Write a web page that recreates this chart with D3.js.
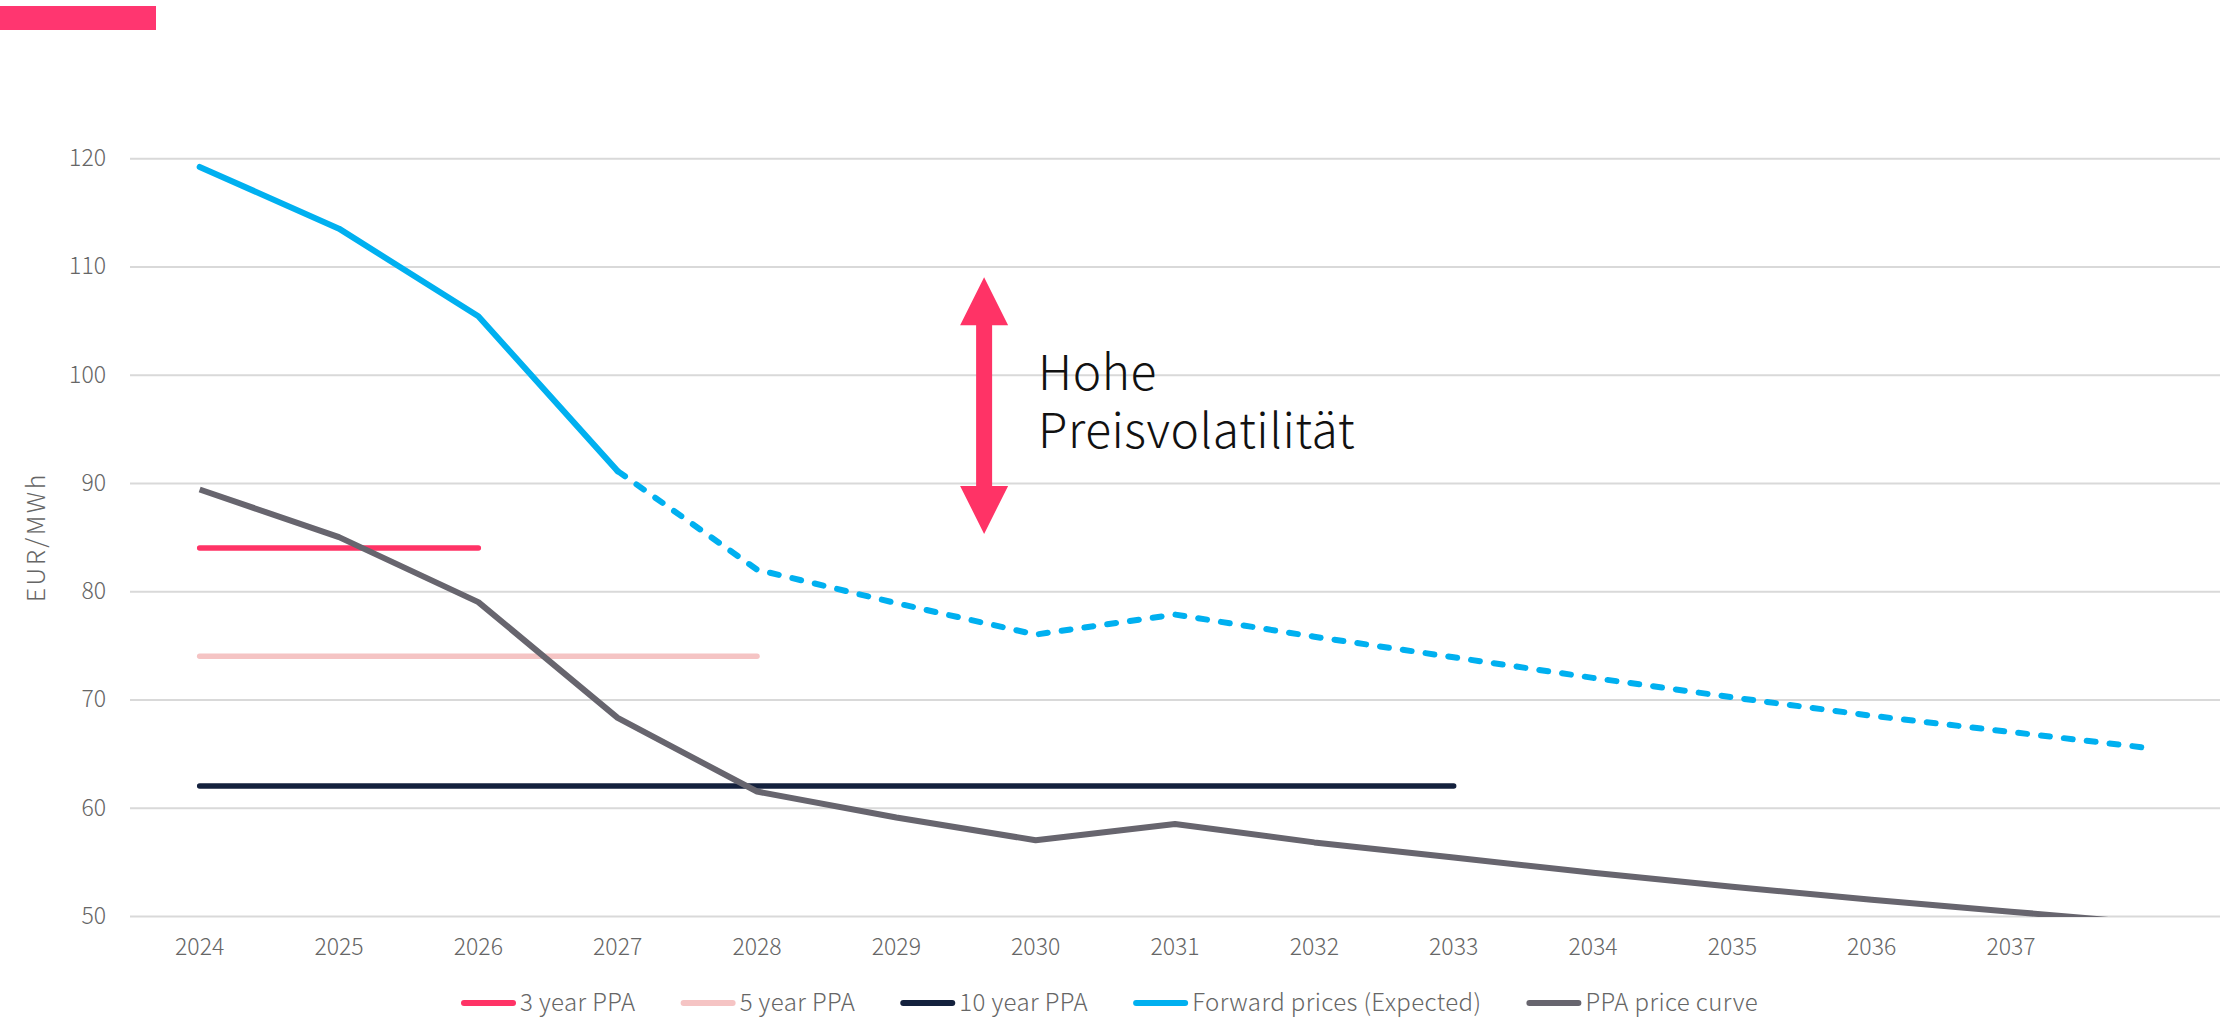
<!DOCTYPE html>
<meta charset="utf-8">
<style type="text/css">
  body {
    margin: 0;
    background: #fff;
    font-family: "Noto Sans CJK JP", "Noto Sans", sans-serif;
  }
  .axis path.domain { display: none; }
  .y.axis line { stroke: #d9d9d9; stroke-width: 2; }
  .axis text { fill: #666; font-size: 23px; font-weight: 300; font-family: "Noto Sans CJK JP", "Noto Sans", sans-serif; }
  .legend text { fill: #666; font-size: 24px; font-weight: 300; letter-spacing: 0.4px; }
  .note { fill: #111; font-size: 48px; font-weight: 300; letter-spacing: 0.5px; }
</style>
<body></body>
<script src="https://cdn.jsdelivr.net/npm/d3@7"></script>
<script>

// categories (last one has no label in the original)
var years = ["2024","2025","2026","2027","2028","2029","2030","2031","2032","2033","2034","2035","2036","2037","2038"];
var tickLabels = ["2024","2025","2026","2027","2028","2029","2030","2031","2032","2033","2034","2035","2036","2037",""];
var yTicks = [50, 60, 70, 80, 90, 100, 110, 120];

// series, EUR/MWh
var forward = [119.2, 113.5, 105.4, 91.1, 82.0, 78.9, 76.0, 77.85, 75.8, 73.9, 72.0, 70.2, 68.5, 67.0, 65.5];
var ppaCurve = [89.4, 85.0, 79.0, 68.3, 61.5, 59.1, 57.0, 58.5, 56.8, 55.4, 54.0, 52.7, 51.5, 50.4, 49.3];
var ppa3 = [84, 84, 84];
var ppa5 = [74, 74, 74, 74, 74];
var ppa10 = [62, 62, 62, 62, 62, 62, 62, 62, 62, 62];
var forwardSolidUntil = 3; // 2027, dashed afterwards

var legendItems = ["3 year PPA", "5 year PPA", "10 year PPA", "Forward prices (Expected)", "PPA price curve"];
var colors = ["#ff3366", "#f5c4c4", "#14213d", "#00b0f0", "#67656e"];

var W = 2232, H = 1017;
var m = {left: 130, right: 2220, top: 158.3, bottom: 916};

var svg = d3.select("body").append("svg")
    .attr("width", W)
    .attr("height", H);

// pink header bar
svg.append("rect")
    .attr("x", 0).attr("y", 6)
    .attr("width", 156).attr("height", 24)
    .attr("fill", "#ff3670");

var x = d3.scaleBand()
    .domain(years)
    .range([m.left, m.right])
    .padding(0);

var y = d3.scaleLinear()
    .domain([50, 120])
    .range([m.bottom, m.top]);

function cx(d, i) { return x(years[i]) + x.bandwidth() / 2; }

var yaxis = d3.axisLeft(y)
    .tickValues(yTicks)
    .tickSizeInner(-(m.right - m.left))
    .tickSizeOuter(0)
    .tickPadding(24);

svg.append("g")
    .attr("class", "y axis")
    .attr("transform", "translate(" + m.left + ",0)")
    .call(yaxis);

var xaxis = d3.axisBottom(x)
    .tickSize(0)
    .tickPadding(23)
    .tickFormat(function(d, i) { return tickLabels[i]; });

svg.append("g")
    .attr("class", "x axis")
    .attr("transform", "translate(0," + m.bottom + ")")
    .call(xaxis);

// y title
svg.append("text")
    .attr("transform", "translate(36," + (m.top + m.bottom) / 2 + ") rotate(-90)")
    .attr("text-anchor", "middle")
    .attr("dy", "0.35em")
    .attr("fill", "#666")
    .style("font-size", "25px")
    .style("font-weight", 300)
    .style("letter-spacing", "2.5px")
    .text("EUR/MWh");

// clip lines at the axis minimum
svg.append("clipPath").attr("id", "plot")
  .append("rect")
    .attr("x", m.left).attr("y", 0)
    .attr("width", m.right - m.left).attr("height", m.bottom + 1);

var plot = svg.append("g").attr("clip-path", "url(#plot)");

var line = d3.line()
    .x(cx)
    .y(function(d) { return y(d); });

function flat(data, color) {
    plot.append("path")
        .datum(data)
        .attr("d", line)
        .attr("fill", "none")
        .attr("stroke", color)
        .attr("stroke-width", 5.5)
        .attr("stroke-linecap", "round");
}

flat(ppa5, colors[1]);
flat(ppa10, colors[2]);
flat(ppa3, colors[0]);

// PPA price curve
plot.append("path")
    .datum(ppaCurve)
    .attr("d", line)
    .attr("fill", "none")
    .attr("stroke", colors[4])
    .attr("stroke-width", 6)
    .attr("stroke-linejoin", "round");

// forward prices: solid part then dashed
plot.append("path")
    .datum(forward)
    .attr("d", line.defined(function(d, i) { return i <= forwardSolidUntil; }))
    .attr("fill", "none")
    .attr("stroke", colors[3])
    .attr("stroke-width", 6)
    .attr("stroke-linecap", "round")
    .attr("stroke-linejoin", "round");

plot.append("path")
    .datum(forward)
    .attr("d", line.defined(function(d, i) { return i >= forwardSolidUntil; }))
    .attr("fill", "none")
    .attr("stroke", colors[3])
    .attr("stroke-width", 6)
    .attr("stroke-dasharray", "9,14")
    .attr("stroke-linecap", "round")
    .attr("stroke-linejoin", "round");

// volatility arrow + note
var ax = x("2029") + x.bandwidth() * 1.13,
    aTop = y(109), aBot = y(85.3), head = 48, hw = 24, sw = 8;

svg.append("path")
    .attr("fill", "#ff3366")
    .attr("d", [
        "M", ax, aTop,
        "L", ax + hw, aTop + head,
        "L", ax + sw, aTop + head,
        "L", ax + sw, aBot - head,
        "L", ax + hw, aBot - head,
        "L", ax, aBot,
        "L", ax - hw, aBot - head,
        "L", ax - sw, aBot - head,
        "L", ax - sw, aTop + head,
        "L", ax - hw, aTop + head, "Z"].join(" "));

var note = svg.append("text")
    .attr("class", "note")
    .attr("x", ax + 54)
    .attr("y", 390);
note.append("tspan").attr("x", ax + 54).text("Hohe");
note.append("tspan").attr("x", ax + 54).attr("dy", 58).text("Preisvolatilität");

// legend
var lg = svg.append("g").attr("class", "legend");
var lx = 461, ly = 1003;
legendItems.forEach(function(name, i) {
    lg.append("line")
        .attr("x1", lx + 3).attr("x2", lx + 52)
        .attr("y1", ly).attr("y2", ly)
        .attr("stroke", colors[i])
        .attr("stroke-width", 6)
        .attr("stroke-linecap", "round");
    var t = lg.append("text")
        .attr("x", lx + 59)
        .attr("y", ly)
        .attr("dy", "0.35em")
        .text(name);
    lx += 59 + t.node().getComputedTextLength() + 45;
});

</script>
